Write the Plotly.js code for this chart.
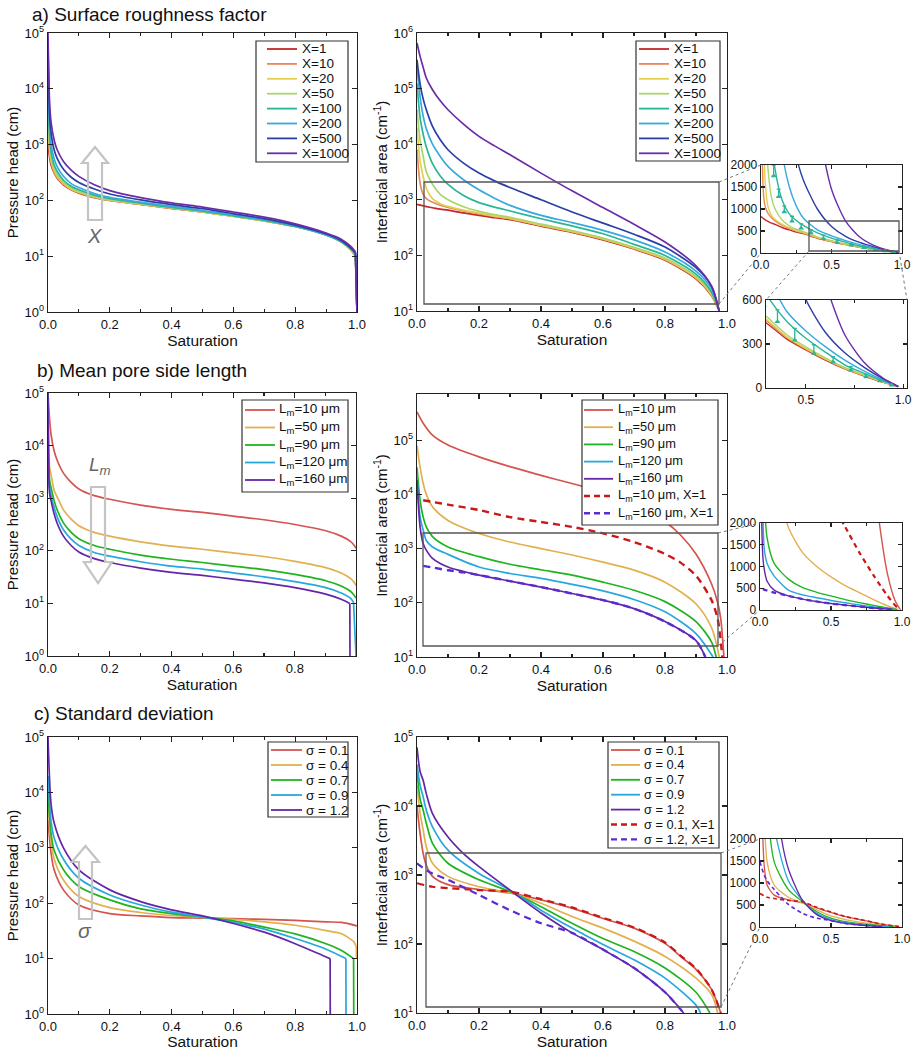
<!DOCTYPE html>
<html><head><meta charset="utf-8">
<script src="https://cdn.plot.ly/plotly-3.0.1.min.js"></script>
<style>html,body{margin:0;padding:0;background:#fff}#chart{width:918px;height:1050px}</style>
</head><body><div id="chart"></div>
<script>
// ---------------- DATA ----------------
// a) Surface roughness factor X
const namesX = ['X=1','X=10','X=20','X=50','X=100','X=200','X=500','X=1000'];
const sA_h = [0,0.005,0.01,0.02,0.03,0.05,0.075,0.1,0.15,0.2,0.3,0.4,0.5,0.6,0.7,0.8,0.9,0.95,0.98,0.995,1.0];
const hX1    = [1000,600,430,310,250,190,155,135,112,100,85,72,62,52,43,34,24,18,13,10,1];
const hX10   = [3000,750,470,320,255,195,157,137,113,100,85,72,62,52,43,34,24,18,13,10,1];
const hX20   = [5000,900,520,340,270,200,160,140,115,101,86,73,62,52,43,34,24,18,13,10.5,1];
const hX50   = [10000,1100,600,370,290,210,168,145,118,103,87,74,63,52,43,34,24,18,13,10.5,1];
const hX100  = [20000,1500,750,430,330,230,180,155,124,107,89,75,64,53,44,34,24,18,13.5,11,1];
const hX200  = [40000,2200,1000,550,400,270,200,170,133,113,93,78,66,55,45,35,24,18.5,14,11,1];
const hX500  = [70000,3500,1600,800,560,360,260,210,160,130,102,84,71,58,47,36,25,19,14,11.5,1];
const hX1000 = [100000,6000,2500,1200,800,500,350,270,190,150,112,90,76,62,50,38,26,20,15,12,1];

const sA_a = [0,0.01,0.02,0.03,0.05,0.075,0.1,0.15,0.2,0.25,0.3,0.4,0.5,0.6,0.7,0.8,0.9,0.95,0.975];
const aX1    = [830,800,775,755,720,680,650,580,525,475,440,335,260,190,130,82,38,19,10];
const aX10   = [8000,2000,1250,1050,900,800,730,630,560,500,455,345,265,195,133,84,39,19,10];
const aX20   = [20000,5000,2600,1600,1050,850,760,650,575,510,465,350,270,198,135,86,40,20,10];
const aX50   = [42000,12000,6000,3200,1900,1250,1000,750,620,540,485,365,280,205,140,90,42,21,10];
const aX100  = [125000,30000,15000,8900,4470,2690,1900,1200,890,740,630,457,339,245,158,100,46,22,10];
const aX200  = [251000,70800,31600,19000,10000,6030,3980,2290,1510,1070,794,525,389,282,190,115,52,25,10];
const aX500  = [331000,120000,64600,41700,20900,12000,7940,4570,3020,2190,1660,1000,603,380,240,141,60,28,10];
const aX1000 = [660000,380000,240000,155000,95500,60300,41700,22900,13800,9330,6460,3020,1450,724,363,174,65,28,10];

// measured points (X=100) shown in the insets
const mkS   = [0.09,0.125,0.165,0.22,0.285,0.354,0.443,0.541,0.64,0.731,0.81,0.88,0.94];
const mkA   = [1750,1280,930,720,560,452,326,235,178,121,75,48,18];
const mkErr = [250,170,140,115,100,80,80,60,35,25,18,10,7];

// b) Mean pore side length Lm
const namesL = ['L<sub>m</sub>=10 μm','L<sub>m</sub>=50 μm','L<sub>m</sub>=90 μm','L<sub>m</sub>=120 μm','L<sub>m</sub>=160 μm','L<sub>m</sub>=10 μm, X=1','L<sub>m</sub>=160 μm, X=1'];
const sB_h = [0,0.005,0.01,0.02,0.03,0.05,0.075,0.1,0.15,0.2,0.3,0.4,0.5,0.6,0.7,0.8,0.9,0.95,0.98,0.99,0.998];
const hL10  = [100000,32000,16000,7900,5200,3000,2000,1500,1120,955,740,615,537,457,389,316,240,190,151,132,112];
const hL50  = [100000,4000,2800,1400,1050,600,400,300,224,190,148,123,107,91,78,63,48,38,30,26,22];
const hL90  = [100000,2240,1580,890,590,340,224,170,126,107,83,69,60,51,44,35.5,27,21.4,17,14.8,12.6];
const hL120 = [100000,1580,1120,660,437,251,166,126,93,79,62,51,45,38,32,26,20,15.8,12.6,10.5,1];
const sB_h160 = [0,0.005,0.01,0.02,0.03,0.05,0.075,0.1,0.15,0.2,0.3,0.4,0.5,0.6,0.7,0.8,0.9,0.95,0.978,0.9785];
const hL160 = [100000,1260,890,500,331,190,126,95,71,60,47,39,34,29,24.5,20,15,12,10,1];

const sL10  = [0,0.02,0.05,0.1,0.2,0.3,0.4,0.5,0.6,0.7,0.8,0.85,0.9,0.95,0.97,0.98,0.99];
const aL10  = [331000,204000,123000,81000,49000,32400,22400,15800,11200,7080,3160,1780,794,224,100,50,10];
const sL10x = [0.02,0.05,0.1,0.2,0.3,0.4,0.5,0.6,0.7,0.8,0.85,0.9,0.95,0.97,0.985];
const aL10x = [7760,7240,6460,5130,3800,3090,2510,1910,1320,794,550,316,112,50,10];
const sL50  = [0,0.01,0.02,0.03,0.05,0.1,0.2,0.3,0.4,0.5,0.6,0.7,0.8,0.9,0.95,0.975];
const aL50  = [79000,31600,15800,10000,5900,3300,1900,1320,1000,760,560,400,240,95,35,10];
const sL90  = [0,0.01,0.02,0.03,0.05,0.1,0.2,0.3,0.4,0.5,0.6,0.7,0.8,0.9,0.95,0.965];
const aL90  = [31600,7760,3800,2510,1660,1070,710,513,407,324,240,170,105,45,19,10];
const sL120 = [0,0.01,0.02,0.03,0.05,0.1,0.2,0.3,0.4,0.5,0.6,0.7,0.8,0.9,0.955];
const aL120 = [24000,3800,2190,1410,1070,780,457,347,282,219,166,115,68,27,10];
const sL160 = [0,0.01,0.02,0.03,0.05,0.1,0.2,0.3,0.4,0.5,0.6,0.7,0.8,0.9,0.93];
const aL160 = [18200,2510,1230,933,660,457,324,251,195,148,112,78,45,20,10];
const sL160x = [0.02,0.05,0.1,0.15,0.2,0.3,0.4,0.5,0.6,0.7,0.8,0.9,0.93];
const aL160x = [480,447,398,363,324,251,195,148,112,78,45,20,10];

// c) Standard deviation sigma
const namesS = ['σ = 0.1','σ = 0.4','σ = 0.7','σ = 0.9','σ = 1.2','σ = 0.1, X=1','σ = 1.2, X=1'];
const sS01h = [0,0.01,0.02,0.05,0.1,0.2,0.3,0.4,0.5,0.6,0.7,0.8,0.9,0.95,1.0];
const hS01  = [3160,794,398,174,93,65,59,55,54,52.5,51,49,46,45,39];
const sS04h = [0,0.01,0.02,0.05,0.1,0.2,0.3,0.4,0.5,0.6,0.7,0.8,0.9,0.95,0.99,0.998,0.9985];
const hS04  = [6300,1260,630,263,132,83,68,60,55,51,46,40,32,28,20,16,10];
const sS07h = [0,0.01,0.02,0.05,0.1,0.2,0.3,0.4,0.5,0.6,0.7,0.8,0.9,0.95,0.989,0.9895];
const hS07  = [10000,1780,890,400,200,115,79,65,56,48,37,28,18.6,14,10,1];
const sS09h = [0,0.01,0.02,0.05,0.1,0.2,0.3,0.4,0.5,0.6,0.7,0.8,0.9,0.964,0.9645];
const hS09  = [20000,3000,1500,620,282,141,93,69,56,45,34,23,14.8,10,1];
const sS12h = [0,0.01,0.02,0.05,0.1,0.2,0.3,0.4,0.5,0.6,0.7,0.8,0.9,0.913,0.9135];
const hS12  = [100000,6000,2800,1000,400,174,107,76,59,43,30,18.6,10.7,10,1];

const sS01 = [0,0.01,0.02,0.03,0.05,0.1,0.2,0.3,0.4,0.5,0.6,0.7,0.8,0.85,0.9,0.95,0.98];
const aS01 = [10000,4000,2040,1380,955,724,617,550,437,331,234,170,102,66,43,22,10];
const sS04 = [0,0.01,0.02,0.03,0.05,0.1,0.2,0.3,0.4,0.5,0.6,0.7,0.8,0.9,0.95,0.97];
const aS04 = [20000,7900,4470,2570,1480,955,676,550,389,251,170,110,66,32,18.6,10];
const sS07 = [0,0.01,0.02,0.03,0.05,0.1,0.2,0.3,0.4,0.5,0.6,0.7,0.8,0.9,0.945];
const aS07 = [31600,12600,8700,5620,2880,1480,851,575,347,200,120,78,45,20,10];
const sS09 = [0,0.01,0.02,0.03,0.05,0.1,0.2,0.3,0.4,0.5,0.6,0.7,0.8,0.9,0.915];
const aS09 = [40000,20000,13500,8700,5000,2290,1050,603,309,170,98,59,32,13,10];
const sS12 = [0,0.01,0.02,0.03,0.05,0.1,0.15,0.2,0.3,0.4,0.5,0.6,0.7,0.8,0.86];
const aS12 = [70800,31600,23400,15100,7760,3550,2040,1320,603,282,145,83,45,20,10];
const sS01x = [0,0.05,0.1,0.2,0.3,0.4,0.5,0.6,0.7,0.8,0.85,0.9,0.95,0.98];
const aS01x = [760,676,646,603,575,447,339,240,174,105,68,44,22,10];
const sS12x = [0,0.03,0.05,0.1,0.2,0.3,0.4,0.5,0.6,0.7,0.8,0.86];
const aS12x = [1480,1175,1050,851,513,309,200,145,83,45,20,10];

const decVals = [1,10,100,1000,10000,100000,1000000];
const decText = ['10<sup>0</sup>','10<sup>1</sup>','10<sup>2</sup>','10<sup>3</sup>','10<sup>4</sup>','10<sup>5</sup>','10<sup>6</sup>'];

// ---------------- STYLE ----------------
const colX = ['#c62828','#e58a5b','#e3cf4f','#a9d56b','#29b597','#36a9dd','#2b3fa6','#6b2ca8'];
const colL = ['#d4544f','#e2b04f','#1fb41f','#27a8dc','#6326a8','#c81818','#5a2bd0'];
const W = 918, H = 1050;
const P = {1:[48,357,33,312], 2:[417,727,33,311], 3:[761,902,165,253], 4:[766,907,300,388],
           5:[48,356,393,656], 6:[417,727,394,657], 7:[760,902,523,610],
           8:[48,357,737,1014], 9:[417,727,737,1013], 10:[760,902,839,927]};
const px = v => v / W, py = v => 1 - v / H;

const traces = [];
function addLine(k, x, y, color, opts) {
  opts = opts || {};
  const s = k === 1 ? '' : k;
  const mk = (xx, yy, shape) => ({x: xx, y: yy, xaxis: 'x' + s, yaxis: 'y' + s,
    mode: 'lines', showlegend: false, hoverinfo: 'skip',
    line: {color: color, width: opts.width || 1.7, dash: opts.dash || 'solid', shape: shape, smoothing: opts.sm || 0.8}});
  if (opts.drop) {   // final vertical drop drawn straight, rest smooth
    const n = x.length;
    traces.push(mk(x.slice(0, n - 1), y.slice(0, n - 1), 'spline'));
    traces.push(mk(x.slice(n - 2), y.slice(n - 2), 'linear'));
  } else traces.push(mk(x, y, 'spline'));
}
// panel a
const hX = [hX1,hX10,hX20,hX50,hX100,hX200,hX500,hX1000];
const aX = [aX1,aX10,aX20,aX50,aX100,aX200,aX500,aX1000];
hX.forEach((y,i) => addLine(1, sA_h, y, colX[i], {drop:true}));
aX.forEach((y,i) => addLine(2, sA_a, y, colX[i]));
aX.forEach((y,i) => addLine(3, sA_a, y, colX[i], {width:1.4, sm:0.7}));
aX.forEach((y,i) => addLine(4, sA_a, y, colX[i], {width:1.4, sm:0.7}));
[3,4].forEach(k => traces.push({x: mkS, y: mkA, xaxis:'x'+k, yaxis:'y'+k, mode:'markers', showlegend:false, hoverinfo:'skip',
  marker:{symbol:'triangle-up', size:5, color:colX[4]},
  error_y:{type:'data', symmetric:false, array:mkErr, arrayminus:mkErr.map(()=>0), color:colX[4], thickness:1.3, width:2}}));
// panel b
addLine(5, sB_h, hL10, colL[0]); addLine(5, sB_h, hL50, colL[1]); addLine(5, sB_h, hL90, colL[2]);
addLine(5, sB_h, hL120, colL[3], {drop:true}); addLine(5, sB_h160, hL160, colL[4], {drop:true});
const bSets = [[sL10,aL10,colL[0],'solid'],[sL50,aL50,colL[1],'solid'],[sL90,aL90,colL[2],'solid'],[sL120,aL120,colL[3],'solid'],
               [sL160,aL160,colL[4],'solid'],[sL10x,aL10x,colL[5],'dash'],[sL160x,aL160x,colL[6],'dash']];
bSets.forEach(b => { addLine(6, b[0], b[1], b[2], {dash: b[3] === 'dash' ? '7px,5px' : 'solid', width: b[3]==='dash'?2.4:1.7});
                     addLine(7, b[0], b[1], b[2], {dash: b[3] === 'dash' ? '5px,4px' : 'solid', width: b[3]==='dash'?2.2:1.4, sm:0.7}); });
// panel c
addLine(8, sS01h, hS01, colL[0]); addLine(8, sS04h, hS04, colL[1], {drop:true}); addLine(8, sS07h, hS07, colL[2], {drop:true});
addLine(8, sS09h, hS09, colL[3], {drop:true}); addLine(8, sS12h, hS12, colL[4], {drop:true});
const cSets = [[sS01,aS01,colL[0],'solid'],[sS04,aS04,colL[1],'solid'],[sS07,aS07,colL[2],'solid'],[sS09,aS09,colL[3],'solid'],
               [sS12,aS12,colL[4],'solid'],[sS01x,aS01x,colL[5],'dash'],[sS12x,aS12x,colL[6],'dash']];
cSets.forEach(b => { addLine(9, b[0], b[1], b[2], {dash: b[3] === 'dash' ? '7px,5px' : 'solid', width: b[3]==='dash'?2.2:1.7});
                     addLine(10, b[0], b[1], b[2], {dash: b[3] === 'dash' ? '4px,3px' : 'solid', width: b[3]==='dash'?1.6:1.3, sm:0.7}); });

// ---------------- AXES ----------------
const base = {showline:true, linecolor:'#222', linewidth:1.3, mirror:'ticks', ticks:'inside', ticklen:5, tickwidth:1.1,
  tickcolor:'#222', showgrid:false, zeroline:false, tickfont:{size:13, color:'#111'}, fixedrange:true, automargin:false};
const layout = {width:W, height:H, margin:{l:0,r:0,t:0,b:0}, paper_bgcolor:'#fff', plot_bgcolor:'rgba(0,0,0,0)',
  font:{family:'"Liberation Sans", Arial, sans-serif', color:'#111'}, showlegend:false, shapes:[], annotations:[]};
function setAxes(k, xo, yo) {
  const s = k === 1 ? '' : k;
  layout['xaxis' + s] = Object.assign({}, base, {domain:[P[k][0]/W, P[k][1]/W], anchor:'y'+s}, xo);
  layout['yaxis' + s] = Object.assign({}, base, {domain:[1-P[k][3]/H, 1-P[k][2]/H], anchor:'x'+s}, yo);
}
const satTitle = {text:'Saturation', font:{size:15.5}, standoff:2};
const mainX = (r) => ({range:r || [0,1], tick0:0, dtick:0.2, tickformat:'.1f',
  minor:{ticks:'inside', dtick:0.1, ticklen:3, tickcolor:'#222'}, title:satTitle});
const logY = (r, title) => ({type:'log', range:r, tickmode:'array', tickvals:decVals, ticktext:decText,
  title:{text:title, font:{size:15}, standoff:2}});
const insetX = {range:[0,1], tickmode:'array', tickvals:[0,0.5,1], ticktext:['0.0','0.5','1.0'], ticklen:4,
  minor:{tickmode:'array', tickvals:[0.25,0.75], ticks:'inside', ticklen:3, tickcolor:'#222'}, tickfont:{size:12}};
const insetY = {range:[0,2000], tickmode:'array', tickvals:[0,500,1000,1500,2000], ticklen:4, tickfont:{size:12}};
const PH = 'Pressure head (cm)', IA = 'Interfacial area (cm<sup>-1</sup>)';
setAxes(1, mainX(), logY([0,5], PH));
setAxes(2, mainX(), logY([1,6], IA));
setAxes(3, insetX, insetY);
setAxes(4, {range:[0.295,1.02], tickmode:'array', tickvals:[0.5,1.0], ticktext:['0.5','1.0'], ticklen:4, tickfont:{size:12},
  minor:{tickmode:'array', tickvals:[0.75], ticks:'inside', ticklen:3, tickcolor:'#222'}},
  {range:[0,600], tickmode:'array', tickvals:[0,300,600], ticklen:4, tickfont:{size:12}});
setAxes(5, mainX([0,0.998]), logY([0,5], PH));
setAxes(6, mainX(), logY([1,5.85], IA));
setAxes(7, insetX, insetY);
setAxes(8, mainX(), logY([0,5], PH));
setAxes(9, mainX(), logY([1,5], IA));
setAxes(10, insetX, insetY);

// ---------------- DECORATION ----------------
const S = layout.shapes, A = layout.annotations;
function pline(x0,y0,x1,y1,color,w,dash){ S.push({type:'line', xref:'paper', yref:'paper', x0:px(x0), y0:py(y0), x1:px(x1), y1:py(y1), layer:'above', line:{color:color, width:w, dash:dash||'solid'}}); }
function prect(x0,y0,x1,y1,color,w,fill){ S.push({type:'rect', xref:'paper', yref:'paper', x0:px(x0), y0:py(y1), x1:px(x1), y1:py(y0), layer:'above', line:{color:color, width:w}, fillcolor:fill||'rgba(0,0,0,0)'}); }
function ptext(x,y,text,size,opts){ A.push(Object.assign({xref:'paper', yref:'paper', x:px(x), y:py(y), text:text, showarrow:false, xanchor:'left', yanchor:'middle', font:{size:size, color:'#111'}}, opts||{})); }
function legend(names, colors, dashes, box, y0, step, lx0, lx1, tx, fs) {
  prect(box[0], box[1], box[2], box[3], '#333', 1.2, '#fff');
  names.forEach((n,i) => { const y = y0 + i*step;
    pline(lx0, y, lx1, y, colors[i], dashes[i] ? 2.4 : 1.8, dashes[i] ? '6px,4px' : 'solid');
    ptext(tx, y, n, fs); });
}
function arrow(pts){ let d = 'M' + pts.map(p => px(p[0]).toFixed(5) + ',' + py(p[1]).toFixed(5)).join(' L') + ' Z';
  S.push({type:'path', xref:'paper', yref:'paper', path:d, layer:'above', line:{color:'#c4c4c4', width:2.2}, fillcolor:'rgba(0,0,0,0)'}); }

// panel titles
ptext(30, 15, 'a) Surface roughness factor', 19);
ptext(35, 370, 'b) Mean pore side length', 19);
ptext(32, 713, 'c) Standard deviation', 19);

// legends
const nodash = n => new Array(n).fill(false);
legend(namesX, colX, nodash(8), [256,41,348,162], 49, 14.9, 267, 297, 300, 13.5);
legend(namesX, colX, nodash(8), [636,41,720,161], 49, 14.9, 639, 669, 672, 13.5);
legend(namesL.slice(0,5), colL, nodash(5), [242,400,348,492], 410, 17.5, 245, 275, 277, 13.5);
legend(namesL, colL, [false,false,false,false,false,true,true], [582,400,718,525], 410, 17.2, 584, 613, 616, 12.8);
legend(namesS.slice(0,5), colL, nodash(5), [268,742,348,817], 750, 15, 271, 302, 304, 13.5);
legend(namesS, colL, [false,false,false,false,false,true,true], [608,742,719,848], 750, 14.9, 611, 640, 642, 12.8);

// zoom rectangles and connector lines
prect(424,182,719,304,'#555',1.3);
prect(423,533,718,646,'#555',1.3);
prect(426,853,721,1007,'#555',1.3);
prect(809,221,899,251,'#555',1.3);
pline(719,182,761,165,'#777',1,'dot'); pline(719,304,761,253,'#777',1,'dot');
pline(809,251,766,300,'#777',1,'dot'); pline(899,251,907,300,'#777',1,'dot');
pline(718,533,760,523,'#777',1,'dot'); pline(718,646,760,610,'#777',1,'dot');
pline(721,853,760,839,'#777',1,'dot'); pline(721,1007,760,927,'#777',1,'dot');

// hollow arrows with parameter labels
arrow([[95,147],[108,163],[102,163],[102,220],[88,220],[88,163],[82,163]]);
arrow([[91,487],[105,487],[105,562],[112,562],[98,583],[84,562],[91,562]]);
arrow([[85.5,846],[99,862],[92,862],[92,919],[79,919],[79,862],[72,862]]);
ptext(94, 236, '<i>X</i>', 20, {xanchor:'center', font:{size:20, color:'#666'}});
ptext(100, 466, '<i>L<sub>m</sub></i>', 19, {xanchor:'center', font:{size:19, color:'#666'}});
ptext(85, 930, '<i>σ</i>', 21, {xanchor:'center', font:{size:21, color:'#666'}});

Plotly.newPlot('chart', traces, layout, {displayModeBar:false, staticPlot:true});
</script></body></html>
